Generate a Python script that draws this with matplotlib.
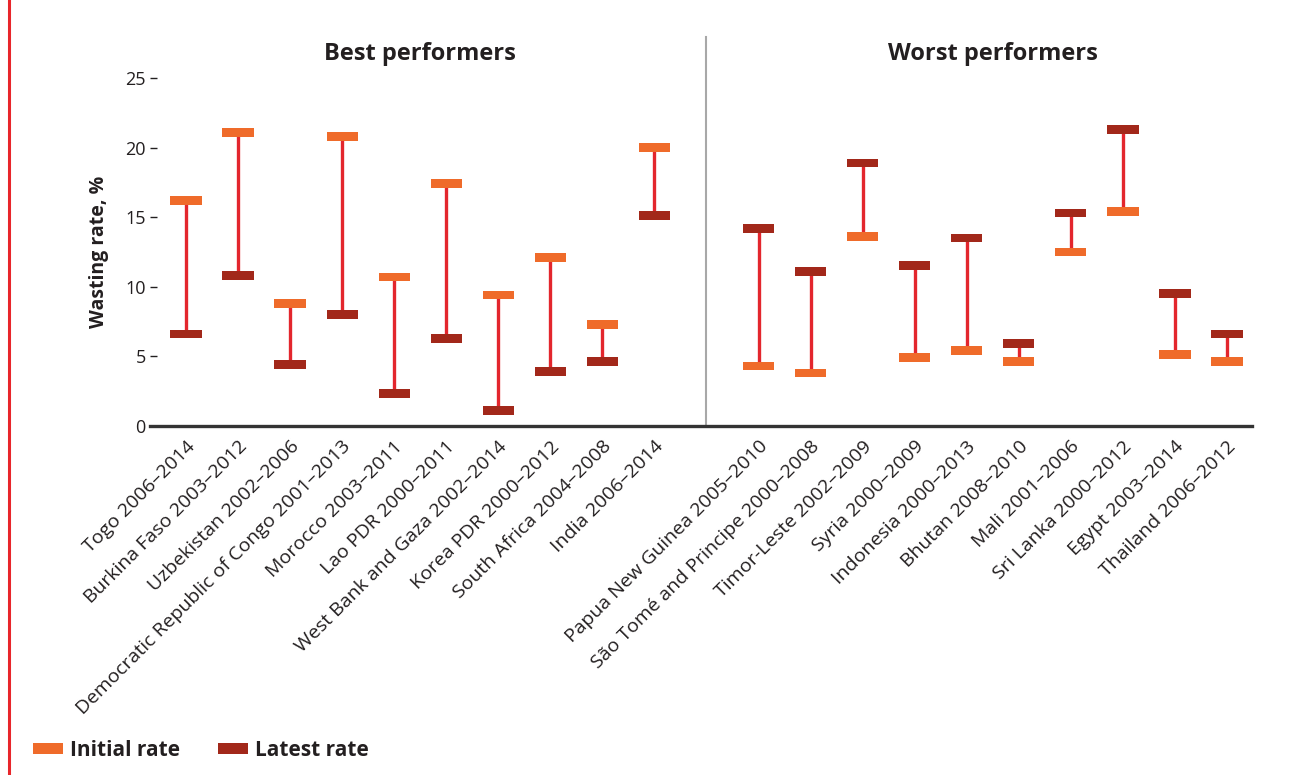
import matplotlib
matplotlib.use('Agg')
import matplotlib.pyplot as plt
import matplotlib.transforms as mtransforms
from matplotlib.lines import Line2D
import numpy as np

plt.rcParams['font.family'] = ['Open Sans', 'DejaVu Sans']

# Data (wasting rate, %)
best_countries = ["Togo 2006–2014", "Burkina Faso 2003–2012", "Uzbekistan 2002–2006",
                  "Democratic Republic of Congo 2001–2013", "Morocco 2003–2011",
                  "Lao PDR 2000–2011", "West Bank and Gaza 2002–2014",
                  "Korea PDR 2000–2012", "South Africa 2004–2008", "India 2006–2014"]
best_initial = [16.2, 21.1, 8.8, 20.8, 10.7, 17.4, 9.4, 12.1, 7.3, 20.0]
best_latest = [6.6, 10.8, 4.4, 8.0, 2.3, 6.3, 1.1, 3.9, 4.6, 15.1]

worst_countries = ["Papua New Guinea 2005–2010", "São Tomé and Principe 2000–2008",
                   "Timor-Leste 2002–2009", "Syria 2000–2009", "Indonesia 2000–2013",
                   "Bhutan 2008–2010", "Mali 2001–2006", "Sri Lanka 2000–2012",
                   "Egypt 2003–2014", "Thailand 2006–2012"]
worst_initial = [4.3, 3.8, 13.6, 4.9, 5.4, 4.6, 12.5, 15.4, 5.1, 4.6]
worst_latest = [14.2, 11.1, 18.9, 11.5, 13.5, 5.9, 15.3, 21.3, 9.5, 6.6]

y_ticks = [0, 5, 10, 15, 20, 25]

# colours
c_initial = '#EF6B2A'
c_latest = '#A2281A'
c_link = '#E3262D'
c_text = '#231F20'

countries = best_countries + worst_countries
initial = np.array(best_initial + worst_initial)
latest = np.array(best_latest + worst_latest)
x = np.concatenate([np.arange(len(best_countries)),
                    np.arange(len(worst_countries)) + len(best_countries) + 1])

fig = plt.figure(figsize=(13.15, 7.75), dpi=100)
ax = fig.add_axes([0.1141, 0.4507, 0.838, 0.4484])

bar_h = 0.63
bar_w = 0.6

# connector lines
ax.vlines(x, np.minimum(initial, latest), np.maximum(initial, latest),
          color=c_link, linewidth=2.4, zorder=2)

# bars for initial and latest values
ax.bar(x, bar_h, bottom=initial - bar_h / 2, width=bar_w, color=c_initial,
       zorder=3, label='Initial rate')
ax.bar(x, bar_h, bottom=latest - bar_h / 2, width=bar_w, color=c_latest,
       zorder=3, label='Latest rate')

ax.set_xlim(-0.69, 20.48)
ax.set_ylim(0, 25)

# spines
for s in ['top', 'right', 'left']:
    ax.spines[s].set_visible(False)
ax.spines['bottom'].set_color('#333333')
ax.spines['bottom'].set_linewidth(2.4)
ax.spines['bottom'].set_zorder(4)

ax.set_yticks(y_ticks)
ax.tick_params(axis='y', direction='in', length=5, width=1, color=c_text,
               labelsize=13, labelcolor=c_text, pad=3)

ax.set_xticks(x)
ax.set_xticklabels(countries, rotation=45, ha='right', va='center',
                   rotation_mode='anchor', fontsize=14, color=c_text)
ax.tick_params(axis='x', length=0, pad=0)
offset = mtransforms.ScaledTranslation(0.06, -0.18, fig.dpi_scale_trans)
for lab in ax.get_xticklabels():
    lab.set_transform(lab.get_transform() + offset)

ax.set_ylabel('Wasting rate, %', fontsize=14, fontweight='bold', color=c_text,
              labelpad=12)

# divider between the two groups
ax.axvline(len(best_countries), ymin=0, ymax=1.118, color='#A8A8A8',
           linewidth=1.5, clip_on=False, zorder=1)

# group titles
ax.text(np.mean(x[:len(best_countries)]), 1.07, 'Best performers',
        transform=ax.get_xaxis_transform(), ha='center', va='center',
        fontsize=17, fontweight='bold', color=c_text)
ax.text(np.mean(x[len(best_countries):]), 1.07, 'Worst performers',
        transform=ax.get_xaxis_transform(), ha='center', va='center',
        fontsize=17, fontweight='bold', color=c_text)

# legend
handles, labels = ax.get_legend_handles_labels()
leg = fig.legend(handles, labels, loc='center left', bbox_to_anchor=(0.025, 0.032),
                 ncol=2, frameon=False, handlelength=1.45, handleheight=0.45,
                 handletextpad=0.35, columnspacing=1.8, borderpad=0,
                 borderaxespad=0, prop={'size': 15, 'weight': 'bold'})
for t in leg.get_texts():
    t.set_color(c_text)

# red border on the left side of the panel
fig.add_artist(Line2D([0.0065, 0.0065], [0, 1], color='#E8262B', linewidth=2.2,
                      transform=fig.transFigure))

plt.savefig('out.png', dpi=100, facecolor='white')
